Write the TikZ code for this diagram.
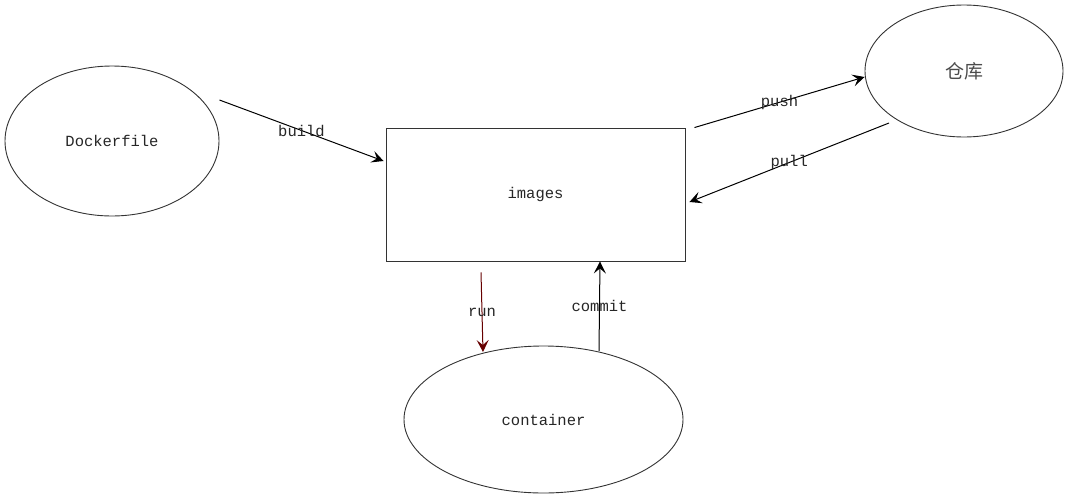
\documentclass[tikz,border=0pt]{standalone}
\usepackage{fontspec}
\usepackage{xcolor}
\setmainfont{Liberation Mono}
\newfontfamily\cjk{Noto Sans CJK SC}
\usetikzlibrary{arrows.meta,positioning,shapes.geometric}
\definecolor{dgray}{HTML}{333333}
\definecolor{dred}{HTML}{660000}

\begin{document}
\begin{tikzpicture}[
  x=1pt, y=-1pt,
  every node/.style={font=\fontsize{15.5}{18}\selectfont, text=black!85},
  oval/.style={draw=dgray, ellipse, inner sep=0pt, line width=0.9pt},
  box/.style={draw=dgray, rectangle, inner sep=0pt, line width=0.9pt, minimum width=299pt, minimum height=133pt},
  link/.style={line width=1pt, -{Stealth[length=12pt, width=12pt, inset=5pt]}},
]
  \useasboundingbox (0,0) rectangle (1068,498);

  \node[oval, minimum width=214pt, minimum height=150pt] (docker) at (112, 141) {Dockerfile};
  \node[box] (images) at (535.5, 194.5) {images};
  \node[oval, minimum width=198pt, minimum height=132pt] (repo) at (964, 71) {\cjk\fontsize{19}{22}\selectfont\color{black!70}仓库};
  \node[oval, minimum width=279pt, minimum height=147pt] (container) at (543.5, 419.5) {container};

  \draw[link] ([yshift=41pt]docker.east) -- node[midway] {build} ([xshift=-2pt, yshift=33.5pt]images.west);
  \draw[link] ([xshift=9pt]images.north east) -- node[midway] {push} ([yshift=-6pt]repo.west);
  \draw[link] ([shift={(-75pt,-52pt)}]repo.center) -- node[midway] {pull} ([xshift=4pt, yshift=-7.5pt]images.east);
  \draw[link, dred] ([xshift=-54.5pt, yshift=-11pt]images.south) -- node[midway] {run} ([shift={(-60.5pt,67.5pt)}]container.center);
  \draw[link] ([shift={(55.5pt,68.5pt)}]container.center) -- node[midway] {commit} ([xshift=64.5pt]images.south);
\end{tikzpicture}
\end{document}
